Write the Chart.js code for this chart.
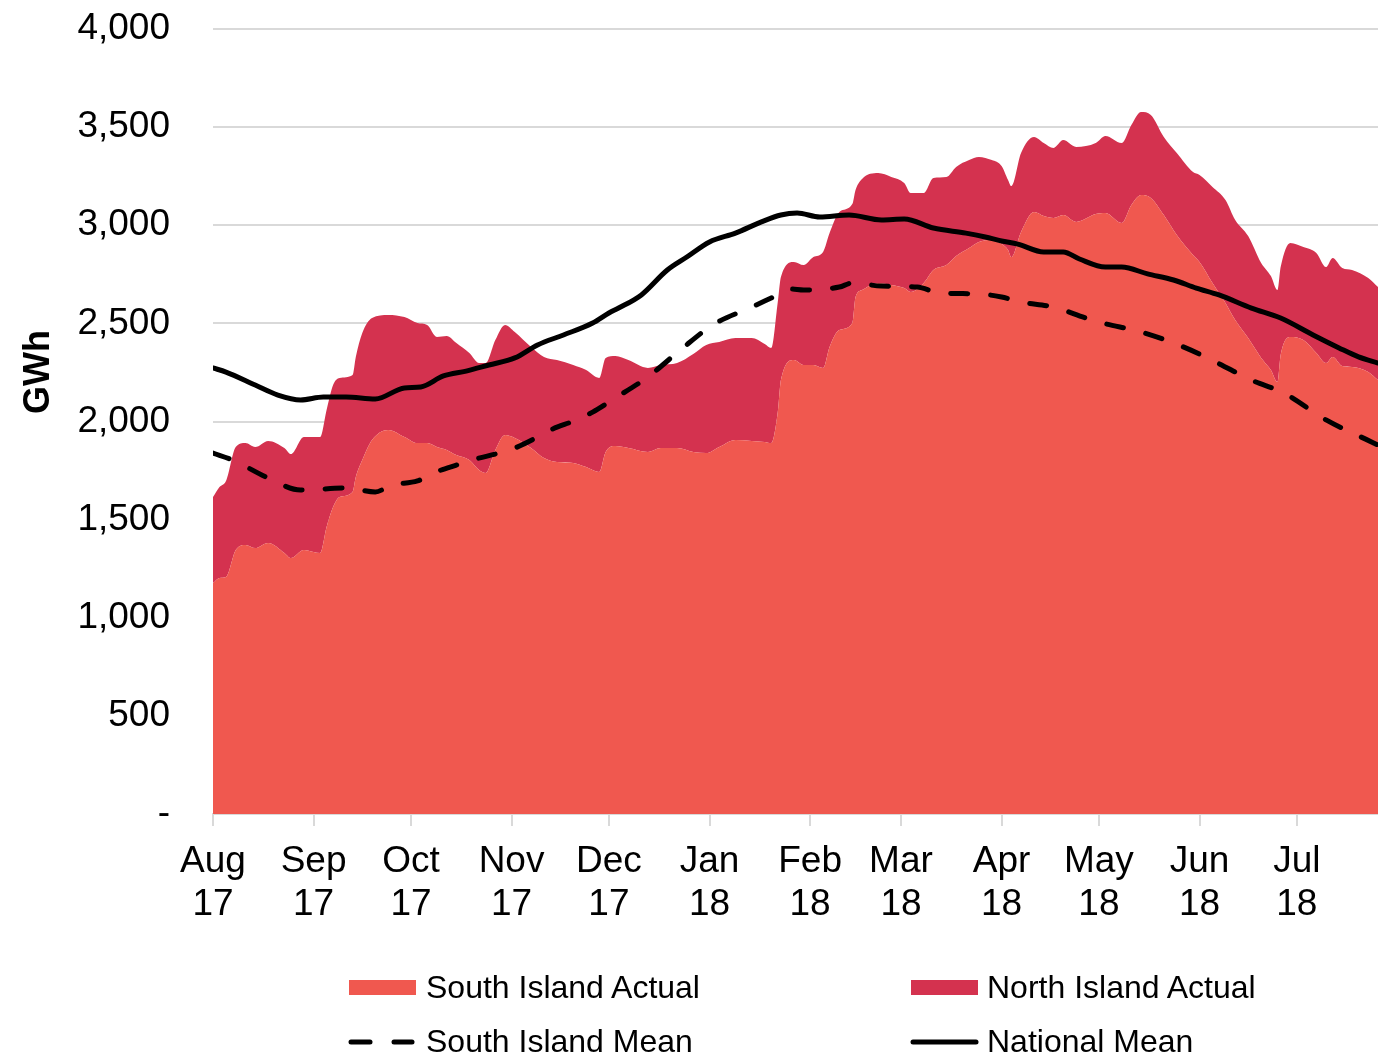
<!DOCTYPE html>
<html><head><meta charset="utf-8">
<script src="https://cdn.jsdelivr.net/npm/chart.js@4.4.1/dist/chart.umd.min.js"></script>
<style>
html,body{margin:0;padding:0;background:#fff;}
#wrap{position:relative;width:1378px;height:1058px;overflow:hidden;}
#cwrap{position:absolute;left:0;top:0;width:1378px;height:1058px;}
.lg{position:absolute;font-family:'Liberation Sans',Arial,sans-serif;font-size:32px;line-height:32px;color:#000;white-space:nowrap;}
.sw{position:absolute;width:67px;height:15px;}
svg{position:absolute;left:0;top:0;}
</style></head><body>
<div id="wrap">
<div id="cwrap"><canvas id="c"></canvas></div>
<div class="sw" style="left:349px;top:980px;background:#F0584F"></div>
<div class="lg" style="left:426px;top:971px">South Island Actual</div>
<div class="sw" style="left:911px;top:980px;background:#D4324F"></div>
<div class="lg" style="left:987px;top:971px">North Island Actual</div>
<svg width="1378" height="1058">
<line x1="351" y1="1042" x2="370" y2="1042" stroke="#000" stroke-width="5" stroke-linecap="round"/>
<line x1="394" y1="1042" x2="412" y2="1042" stroke="#000" stroke-width="5" stroke-linecap="round"/>
<line x1="913" y1="1042" x2="976" y2="1042" stroke="#000" stroke-width="5" stroke-linecap="round"/>
</svg>
<div class="lg" style="left:426px;top:1025px">South Island Mean</div>
<div class="lg" style="left:987px;top:1025px">National Mean</div>
</div>
<script>
// Day index since 1 Aug 2017
const days = [0,2,4,7,10,13,17,22,24,28,31,33,35,37,39,43,44,46,49,54,59,63,66,69,72,75,79,82,84,87,90,93,98,102,106,111,115,119,121,124,128,134,138,143,148,152,156,161,166,170,172,174,175,179,182,185,188,190,193,197,198,200,205,209,213,215,219,222,226,229,233,236,240,243,245,246,249,253,256,259,262,266,272,275,280,283,286,289,293,297,302,304,308,312,315,319,323,326,328,329,332,336,340,343,345,348,351,356,359];
const southActual = [1177,1203,1208,1345,1371,1355,1381,1330,1304,1345,1335,1330,1462,1564,1615,1641,1717,1804,1906,1957,1921,1890,1890,1870,1855,1829,1804,1753,1738,1855,1931,1916,1865,1814,1794,1789,1768,1743,1845,1875,1865,1845,1865,1865,1845,1839,1870,1906,1901,1896,1890,2043,2211,2313,2288,2288,2273,2380,2466,2502,2634,2670,2706,2696,2680,2660,2706,2772,2797,2843,2884,2915,2925,2904,2874,2838,2966,3067,3047,3037,3052,3017,3057,3062,3011,3103,3154,3139,3052,2950,2848,2813,2706,2604,2517,2425,2324,2262,2201,2339,2431,2415,2349,2298,2329,2283,2278,2252,2211];
const northActual = [438,463,489,525,519,515,520,535,530,576,586,591,597,622,607,596,612,647,621,586,611,612,602,561,581,571,545,545,560,560,561,540,515,515,519,499,494,479,479,459,448,428,423,433,499,551,535,519,524,499,485,561,525,500,509,550,591,580,601,606,546,566,560,550,535,504,458,469,449,454,448,433,407,398,357,362,402,383,372,357,382,382,362,393,408,408,423,423,398,418,423,443,489,525,510,520,484,479,469,448,479,474,510,489,504,499,494,479,474];
const nationalMeanDays = [0,4,13,20,27,34,41,50,59,64,71,78,85,93,100,108,117,122,125,132,140,146,153,161,169,175,180,187,196,206,213,222,232,238,243,248,256,262,267,275,280,288,296,303,310,320,329,339,347,353,359];
const nationalMean = [2273,2252,2186,2135,2110,2125,2125,2115,2171,2176,2232,2257,2288,2324,2390,2441,2502,2553,2578,2645,2772,2838,2915,2960,3017,3052,3062,3042,3052,3027,3032,2986,2960,2940,2920,2904,2864,2864,2828,2787,2787,2752,2721,2680,2645,2578,2527,2441,2375,2329,2298];
const southMeanDays = [0,6,17,27,41,50,55,63,68,75,81,88,93,100,104,112,117,123,134,144,154,166,172,178,182,193,197,206,217,224,236,243,249,259,269,274,286,299,309,320,330,343,357,359];
const southMean = [1839,1804,1712,1651,1661,1641,1676,1697,1738,1778,1809,1839,1865,1921,1957,2008,2048,2110,2227,2364,2492,2583,2629,2675,2670,2685,2706,2690,2685,2655,2650,2634,2609,2583,2527,2502,2456,2380,2303,2211,2145,2008,1896,1880];
const monthTicks = [0,31,61,92,122,153,184,212,243,273,304,334];
const monthLabels = [["Aug","17"],["Sep","17"],["Oct","17"],["Nov","17"],["Dec","17"],["Jan","18"],["Feb","18"],["Mar","18"],["Apr","18"],["May","18"],["Jun","18"],["Jul","18"]];
const yTitle = "GWh";
const seriesNames = ["South Island Actual","North Island Actual","South Island Mean","National Mean"];

const pts = (xs, ys) => xs.map((x, i) => ({x: x, y: ys[i]}));

const gwhPlugin = {
  id: 'gwh',
  afterDraw(chart) {
    const ctx = chart.ctx;
    ctx.save();
    ctx.translate(49, 372);
    ctx.rotate(-Math.PI / 2);
    ctx.font = 'bold 36px "Liberation Sans", Arial, sans-serif';
    ctx.fillStyle = '#000';
    ctx.textAlign = 'center';
    ctx.textBaseline = 'alphabetic';
    ctx.fillText(yTitle, 0, 0);
    ctx.restore();
  }
};

Chart.defaults.font.family = '"Liberation Sans", Arial, sans-serif';
Chart.defaults.color = '#000';

new Chart(document.getElementById('c'), {
  type: 'line',
  data: {
    datasets: [
      { label: seriesNames[0], data: pts(days, southActual), stack: 'actual', fill: 'origin',
        backgroundColor: '#F0584F', borderColor: '#F0584F', borderWidth: 0, pointRadius: 0,
        cubicInterpolationMode: 'monotone', order: 3 },
      { label: seriesNames[1], data: pts(days, northActual), stack: 'actual', fill: '-1',
        backgroundColor: '#D4324F', borderColor: '#D4324F', borderWidth: 0, pointRadius: 0,
        cubicInterpolationMode: 'monotone', order: 4 },
      { label: seriesNames[2], data: pts(southMeanDays, southMean), stack: 'sm', fill: false,
        borderColor: '#000', borderWidth: 5, borderDash: [17, 23], borderCapStyle: 'round',
        pointRadius: 0, cubicInterpolationMode: 'monotone', order: 1 },
      { label: seriesNames[3], data: pts(nationalMeanDays, nationalMean), stack: 'nm', fill: false,
        borderColor: '#000', borderWidth: 5, borderCapStyle: 'round', borderJoinStyle: 'round',
        pointRadius: 0, cubicInterpolationMode: 'monotone', order: 0 }
    ]
  },
  options: {
    responsive: true,
    maintainAspectRatio: false,
    animation: false,
    events: [],
    layout: { padding: { top: 29, right: 0, bottom: 124, left: 0 } },
    plugins: { legend: { display: false }, tooltip: { enabled: false }, title: { display: false } },
    scales: {
      x: {
        type: 'linear', min: 0, max: 359,
        afterBuildTicks: (s) => { s.ticks = monthTicks.map(v => ({ value: v })); },
        afterFit: (s) => { s.height = 120; s.paddingLeft = 0; s.paddingRight = 0; },
        grid: { drawOnChartArea: false, drawTicks: true, tickLength: 12, color: '#D9D9D9', lineWidth: 2 },
        border: { display: true, color: '#D9D9D9', width: 2 },
        ticks: {
          autoSkip: false, maxRotation: 0, minRotation: 0, padding: 15,
          font: { size: 37, lineHeight: 1.15 }, color: '#000',
          callback: (v, i) => monthLabels[i]
        }
      },
      y: {
        stacked: true, min: 0, max: 4000,
        afterFit: (s) => { s.width = 213; s.paddingTop = 0; s.paddingBottom = 0; },
        ticks: { stepSize: 500, padding: 43, font: { size: 37 }, color: '#000',
          callback: (v) => v === 0 ? '-' : v.toLocaleString('en-US') },
        grid: { color: '#D9D9D9', lineWidth: 2, drawTicks: false },
        border: { display: false }
      }
    }
  },
  plugins: [gwhPlugin]
});
</script>
</body></html>
